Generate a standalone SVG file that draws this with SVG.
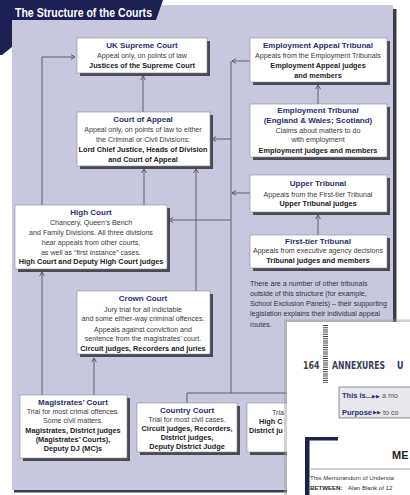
<svg xmlns="http://www.w3.org/2000/svg" width="410" height="495" viewBox="0 0 410 495">
<defs>
<style>
.box{fill:#fff;stroke:#8a8a98;stroke-width:0.6}
.sh{fill:#4a4a52}
text{font-family:"Liberation Sans",Arial,sans-serif}
.t{font-size:8px;font-weight:bold;fill:#2b2f6e;text-anchor:middle}
.r{font-size:7.1px;fill:#3a3a3a;text-anchor:middle}
.b{font-size:7.3px;font-weight:bold;fill:#222;text-anchor:middle}
.p{font-size:7.1px;fill:#333}
.ln{fill:none;stroke:#555;stroke-width:0.9}
.cd{font-family:"DejaVu Sans Condensed","DejaVu Sans",sans-serif;font-size:11px;font-weight:bold}
</style>
<marker id="ah" viewBox="0 0 5 6" refX="4.6" refY="3" markerWidth="5" markerHeight="6" markerUnits="userSpaceOnUse" orient="auto">
<path d="M0.5,0.5 L4.6,3 L0.5,5.5" fill="none" stroke="#555" stroke-width="0.9"/>
</marker>
</defs>
<rect width="410" height="495" fill="#fff"/>
<!-- panel -->
<rect x="393" y="9" width="3.5" height="314" fill="#3c3c48"/>
<rect x="14" y="489" width="274" height="3.5" fill="#3c3c48"/>
<rect x="12" y="5" width="381" height="485" fill="#c7c8de"/>
<polygon points="0,0 163,0 156,20 12,20 12,47 2,55 0,55" fill="#1c2052"/>
<text x="15" y="16.5" font-size="12" font-weight="bold" fill="#fff" textLength="137" lengthAdjust="spacingAndGlyphs">The Structure of the Courts</text>

<g id="connectors">
<polyline class="ln" points="42,205 42,57 75,57" marker-end="url(#ah)"/>
<line class="ln" x1="42" y1="395" x2="42" y2="272" marker-end="url(#ah)"/>
<line class="ln" x1="94" y1="395" x2="94" y2="358" marker-end="url(#ah)"/>
<line class="ln" x1="143" y1="112" x2="143" y2="76" marker-end="url(#ah)"/>
<line class="ln" x1="144" y1="205" x2="144" y2="169" marker-end="url(#ah)"/>
<line class="ln" x1="196" y1="291" x2="196" y2="169" marker-end="url(#ah)"/>
<line class="ln" x1="250" y1="61" x2="232" y2="61" marker-end="url(#ah)"/>
<line class="ln" x1="231" y1="61" x2="231" y2="393"/>
<line class="ln" x1="231" y1="139" x2="212" y2="139" marker-end="url(#ah)"/>
<line class="ln" x1="231" y1="220" x2="169" y2="220" marker-end="url(#ah)"/>
<line class="ln" x1="250" y1="193" x2="232" y2="193" marker-end="url(#ah)"/>
<line class="ln" x1="318" y1="104" x2="318" y2="85" marker-end="url(#ah)"/>
<line class="ln" x1="318" y1="235" x2="318" y2="215" marker-end="url(#ah)"/>
<polyline class="ln" points="187,403 187,393 295,393"/>
</g>

<g id="uk-supreme-court">
<rect class="sh" x="80" y="41" width="130" height="35"/>
<rect class="box" x="77" y="38" width="130" height="35"/>
<text class="t" x="142" y="48">UK Supreme Court</text>
<text class="r" x="142" y="57.5">Appeal only, on points of law</text>
<text class="b" x="142" y="67.5">Justices of the Supreme Court</text>
</g>

<g id="court-of-appeal">
<rect class="sh" x="80" y="115" width="133" height="54"/>
<rect class="box" x="77" y="112" width="133" height="54"/>
<text class="t" x="143" y="121.5">Court of Appeal</text>
<text class="r" x="143" y="132">Appeal only, on points of law to either</text>
<text class="r" x="143" y="142">the Criminal or Civil Divisions:</text>
<text class="b" x="143" y="152">Lord Chief Justice, Heads of Division</text>
<text class="b" x="143" y="162">and Court of Appeal</text>
</g>

<g id="high-court">
<rect class="sh" x="18" y="208" width="152" height="64"/>
<rect class="box" x="15" y="205" width="152" height="64"/>
<text class="t" x="91" y="215">High Court</text>
<text class="r" x="91" y="225">Chancery, Queen’s Bench</text>
<text class="r" x="91" y="235">and Family Divisions. All three divisions</text>
<text class="r" x="91" y="245">hear appeals from other courts,</text>
<text class="r" x="91" y="254.5">as well as “first instance” cases.</text>
<text class="b" x="91" y="264">High Court and Deputy High Court judges</text>
</g>

<g id="crown-court">
<rect class="sh" x="80" y="294" width="133" height="63"/>
<rect class="box" x="77" y="291" width="133" height="63"/>
<text class="t" x="143" y="301">Crown Court</text>
<text class="r" x="143" y="311.5">Jury trial for all indictable</text>
<text class="r" x="143" y="321">and some either-way criminal offences.</text>
<text class="r" x="143" y="331.5">Appeals against conviction and</text>
<text class="r" x="143" y="341">sentence from the magistrates’ court.</text>
<text class="b" x="143" y="350.5">Circuit judges, Recorders and juries</text>
</g>

<g id="magistrates-court">
<rect class="sh" x="23" y="398" width="107" height="63"/>
<rect class="box" x="20" y="395" width="107" height="63"/>
<text class="t" x="73" y="405">Magistrates’ Court</text>
<text class="r" x="73" y="414">Trial for most crimal offences.</text>
<text class="r" x="73" y="423">Some civil matters.</text>
<text class="b" x="73" y="432.5">Magistrates, District judges</text>
<text class="b" x="73" y="442">(Magistrates’ Courts),</text>
<text class="b" x="73" y="451">Deputy DJ (MC)s</text>
</g>

<g id="country-court">
<rect class="sh" x="140" y="406" width="100" height="49"/>
<rect class="box" x="137" y="403" width="100" height="49"/>
<text class="t" x="187" y="413">Country Court</text>
<text class="r" x="187" y="422">Trial for most civil cases.</text>
<text class="b" x="187" y="431">Circuit judges, Recorders,</text>
<text class="b" x="187" y="440">District judges,</text>
<text class="b" x="187" y="448.5">Deputy District Judge</text>
</g>

<g id="third-court">
<rect class="sh" x="250" y="406" width="50" height="49"/>
<rect class="box" x="247" y="403" width="50" height="49"/>
<text class="r" x="272" y="415" style="text-anchor:start">Tria</text>
<text class="b" x="259" y="424" style="text-anchor:start">High C</text>
<text class="b" x="249" y="433" style="text-anchor:start">District ju</text>
</g>

<g id="employment-appeal-tribunal">
<rect class="sh" x="253" y="41" width="137" height="44"/>
<rect class="box" x="250" y="38" width="137" height="44"/>
<text class="t" x="318" y="47.5">Employment Appeal Tribunal</text>
<text class="r" x="318" y="57.5">Appeals from the Employment Tribunals</text>
<text class="b" x="318" y="68">Employment Appeal judges</text>
<text class="b" x="318" y="78">and members</text>
</g>

<g id="employment-tribunal">
<rect class="sh" x="253" y="107" width="137" height="53"/>
<rect class="box" x="250" y="104" width="137" height="53"/>
<text class="t" x="318" y="113">Employment Tribunal</text>
<text class="t" x="318" y="122.5">(England &amp; Wales; Scotland)</text>
<text class="r" x="318" y="133">Claims about matters to do</text>
<text class="r" x="318" y="142">with employment</text>
<text class="b" x="318" y="152.5">Employment judges and members</text>
</g>

<g id="upper-tribunal">
<rect class="sh" x="253" y="178" width="137" height="37"/>
<rect class="box" x="250" y="175" width="137" height="37"/>
<text class="t" x="318" y="186">Upper Tribunal</text>
<text class="r" x="318" y="196.5">Appeals from the First-tier Tribunal</text>
<text class="b" x="318" y="206">Upper Tribunal judges</text>
</g>

<g id="first-tier-tribunal">
<rect class="sh" x="253" y="238" width="137" height="33"/>
<rect class="box" x="250" y="235" width="137" height="33"/>
<text class="t" x="318" y="243.5">First-tier Tribunal</text>
<text class="r" x="318" y="253">Appeals from executive agency decisions</text>
<text class="b" x="318" y="262.5">Tribunal judges and members</text>
</g>

<g id="note">
<text class="p" x="250" y="286">There are a number of other tribunals</text>
<text class="p" x="250" y="296">outside of this structure (for example,</text>
<text class="p" x="250" y="306">School Exclusion Panels) – their supporting</text>
<text class="p" x="250" y="316">legislation explains their individual appeal</text>
<text class="p" x="250" y="326.5">routes.</text>
</g>

<!-- overlapping page -->
<g id="annexure-page">
<rect x="284" y="319.5" width="130" height="180" fill="#999" opacity="0.45"/>
<rect x="287" y="322" width="123" height="173" fill="#fff"/>
<line x1="325.5" y1="325" x2="325.5" y2="383" stroke="#444" stroke-width="5" stroke-dasharray="1 1.2"/>
<text class="cd" transform="translate(303,369) scale(0.8,1)" fill="#444">164</text>
<text class="cd" transform="translate(332,369) scale(0.78,1)" fill="#3c3d5a">ANNEXURES</text>
<text class="cd" transform="translate(397,369) scale(0.8,1)" fill="#2b2f6e">U</text>
<rect x="339" y="387" width="75" height="31" fill="#e6e6ec" stroke="#666" stroke-width="0.7"/>
<text x="342" y="398" font-size="7.5" font-weight="bold" fill="#2b2f6e">This is...</text>
<text x="372" y="397.5" font-family="'DejaVu Sans',sans-serif" font-size="5" fill="#2b2f6e">▶▶</text>
<text x="382" y="398" font-size="7.2" fill="#555">a mo</text>
<text x="342" y="414.5" font-size="7.5" font-weight="bold" fill="#2b2f6e">Purpose</text>
<text x="373" y="414" font-family="'DejaVu Sans',sans-serif" font-size="5" fill="#2b2f6e">▶▶</text>
<text x="383" y="414.5" font-size="7.2" fill="#555">to co</text>
<rect x="305" y="437" width="4.5" height="58" fill="#1c2052"/>
<rect x="305" y="437" width="33" height="3.5" fill="#1c2052"/>
<text x="392" y="459" font-size="11" font-weight="bold" fill="#222">ME</text>
<line x1="311" y1="469" x2="410" y2="469" stroke="#666" stroke-width="0.6"/>
<text x="310" y="480" font-size="6.1" fill="#333">This Memorandum of Understa</text>
<text x="310" y="490" font-size="6.1" font-weight="bold" fill="#222">BETWEEN:</text>
<text x="348" y="490" font-size="6.1" fill="#333">Alan Blank of 12</text>
</g>
</svg>
